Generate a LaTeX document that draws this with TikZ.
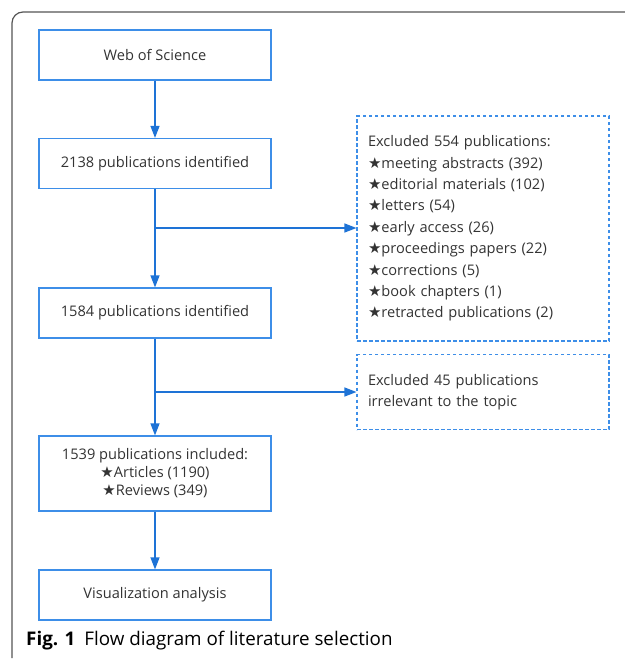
\documentclass[tikz,border=0pt]{standalone}
\usepackage{fontspec}
\setmainfont{Open Sans}
\newfontfamily\starfont{DejaVu Sans}
\usetikzlibrary{arrows.meta}
\definecolor{boxblue}{HTML}{3D8EE8}
\definecolor{arrblue}{HTML}{1E73D6}
\definecolor{txt}{HTML}{333333}
\definecolor{framegray}{HTML}{555555}
\newcommand{\st}{{\starfont\fontsize{15}{15}\selectfont ★}}
\tikzset{
  mainbox/.style={draw=boxblue, line width=1.2pt, minimum width=232pt, minimum height=50pt, inner sep=0pt, align=center, text=txt, font=\fontsize{14.6}{18}\selectfont},
  exbox/.style={draw=boxblue, line width=1.1pt, dash pattern=on 3.5pt off 2.5pt, inner xsep=11pt, inner ysep=0pt, align=left, text=txt, font=\fontsize{14.6}{21.4}\selectfont},
  arr/.style={draw=arrblue, line width=1.2pt, -{Triangle[length=12pt,width=9pt]}},
  conn/.style={draw=arrblue, line width=1.2pt}
}
\begin{document}
\begin{tikzpicture}[x=1pt,y=-1pt]
\useasboundingbox (0,0) rectangle (624,661);
\draw[framegray, line width=1.2pt, rounded corners=11pt] (625,12) -- (12,12) -- (12,658);
\node[mainbox] (b1) at (155,55) {Web of Science};
\node[mainbox] (b2) at (155,163.5) {2138 publications identified};
\node[mainbox] (b3) at (155,313) {1584 publications identified};
\node[mainbox, minimum height=75pt] (b4) at (155,473.5) {1539 publications included:\\\st Articles (1190)\\\st Reviews (349)};
\node[mainbox] (b5) at (155,595) {Visualization analysis};
\node[exbox, minimum width=252pt, minimum height=225pt, text width=230pt] (e1) at (483,228.5) {Excluded 554 publications:\\
\st meeting abstracts (392)\\
\st editorial materials (102)\\
\st letters (54)\\
\st early access (26)\\
\st proceedings papers (22)\\
\st corrections (5)\\
\st book chapters (1)\\
\st retracted publications (2)};
\node[exbox, minimum width=252pt, minimum height=75pt, text width=230pt] (e2) at (483,392) {Excluded 45 publications\\irrelevant to the topic};
\coordinate (j1) at (155,228);
\coordinate (j2) at (155,392);
\draw[arr] (b1) -- (b2);
\draw[arr] (b2) -- (b3);
\draw[arr] (b3) -- (b4);
\draw[arr] (b4) -- (b5);
\draw[arr] (j1) -- (j1 -| e1.west);
\draw[arr] (j2) -- (j2 -| e2.west);
\node[anchor=base west, text=black, font=\fontsize{18.8}{20}\selectfont, inner sep=0pt] (cap) at (26,645) {\textbf{Fig. 1}\hspace{9pt}Flow diagram of literature selection};
\end{tikzpicture}
\end{document}
